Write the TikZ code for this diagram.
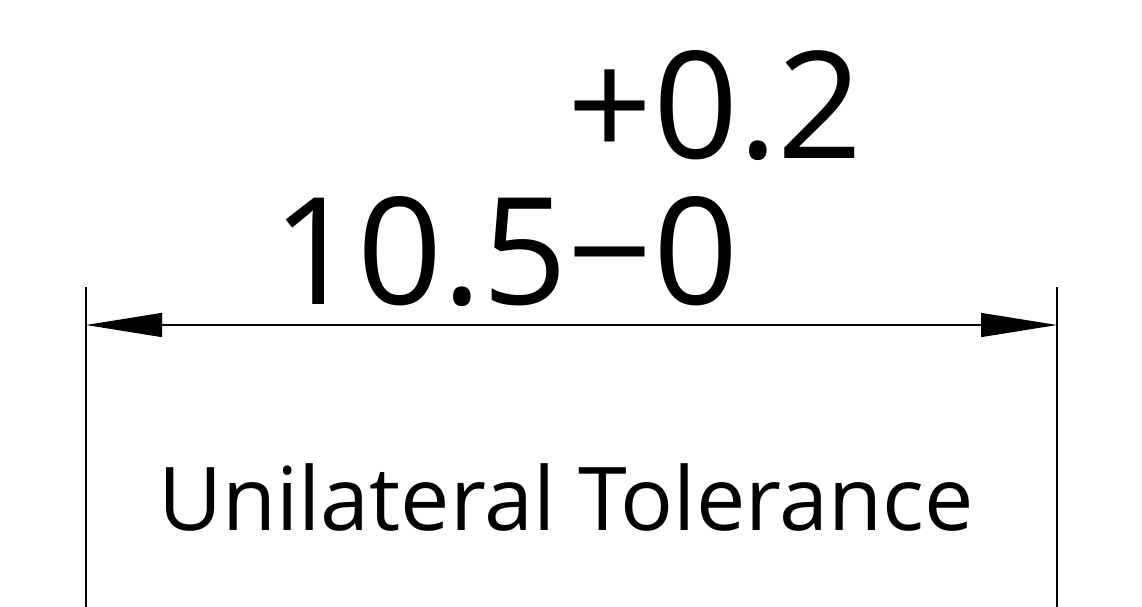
\documentclass[tikz,border=0pt]{standalone}
\usepackage{fontspec}
\setmainfont{Open Sans}
\usetikzlibrary{arrows.meta,positioning}
\tikzset{
  dimtext/.style={inner sep=0pt, font=\fontsize{149}{156}\selectfont},
  captext/.style={inner sep=0pt, font=\fontsize{88}{95}\selectfont},
  extline/.style={line width=1.4pt},
  dimline/.style={line width=1.4pt, {Triangle[length=76pt,width=24pt]}-{Triangle[length=76pt,width=24pt]}}
}
\begin{document}
\begin{tikzpicture}[x=1pt,y=-1pt]
  \useasboundingbox (0,0) rectangle (1142,607);
  % extension lines
  \coordinate (lt) at (86,287);
  \coordinate (lb) at (86,607);
  \coordinate (rt) at (1057,287);
  \coordinate (rb) at (1057,607);
  \draw[extline] (lt) -- (lb);
  \draw[extline] (rt) -- (rb);
  % dimension line
  \coordinate (la) at (86,325);
  \coordinate (ra) at (1057,325);
  \draw[dimline] (la) -- (ra);
  % value with tolerance
  \node[dimtext, anchor=base west] (nominal) at (272,304) {10.5};
  \node[dimtext, anchor=base west] (lower) at (nominal.base east) {−0};
  \node[dimtext, anchor=base west] (upper) at ([yshift=146pt]lower.base west) {+0.2};
  % caption
  \node[captext, anchor=base] (caption) at (566,530) {Unilateral Tolerance};
\end{tikzpicture}
\end{document}
